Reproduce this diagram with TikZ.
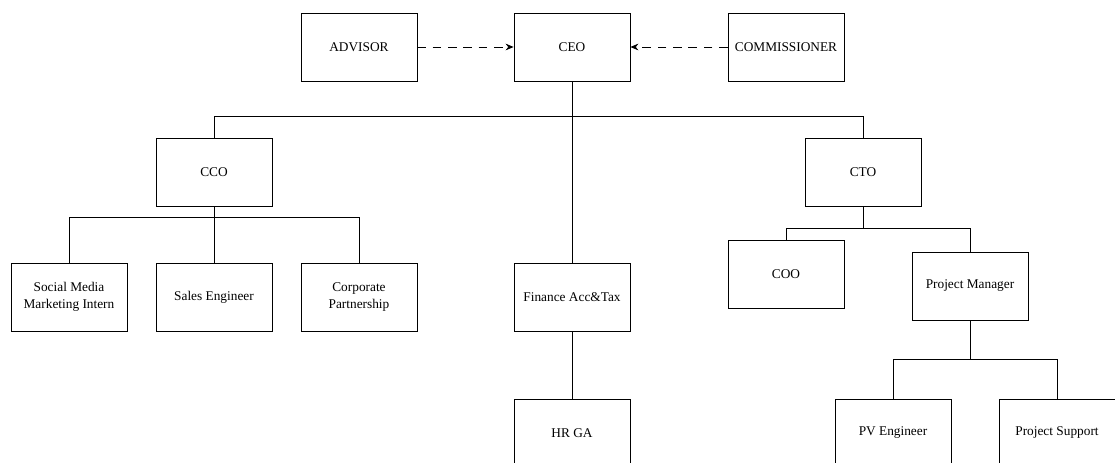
\documentclass[tikz,border=0pt]{standalone}
\usepackage{fontspec}
\setmainfont{Liberation Serif}
\usetikzlibrary{arrows.meta}
\tikzset{>={Stealth[length=6pt,width=5pt]}}
\tikzset{
  post/.style = {draw,rectangle,line width=0.6pt,minimum width=87pt,
    minimum height=51pt,inner sep=0pt,align=center,
    font=\fontsize{10}{12.5}\selectfont},
  link/.style = {line width=0.6pt},
  advice/.style = {->,line width=0.6pt,dash pattern=on 6.5pt off 5pt}
}

\begin{document}
\begin{tikzpicture}[x=0.75pt,y=-0.75pt]
  \useasboundingbox (0,0) rectangle (1115,463);
  % top row
  \node[post] (advisor) at (359,47) {ADVISOR};
  \node[post] (ceo) at (572,47) {CEO};
  \node[post] (commissioner) at (786,47) {COMMISSIONER};
  % second row
  \node[post] (cco) at (214,172) {CCO};
  \node[post] (cto) at (863,172) {CTO};
  % staff
  \node[post] (social) at (69,297) {Social Media\\Marketing Intern};
  \node[post] (sales) at (214,297) {Sales Engineer};
  \node[post] (corp) at (359,297) {Corporate\\Partnership};
  \node[post] (finance) at (572,297) {Finance Acc\&Tax};
  \node[post] (hrga) at (572,433) {HR GA};
  \node[post] (coo) at (786,274) {COO};
  \node[post] (pm) at (970,286) {Project Manager};
  \node[post] (pv) at (893,433) {PV Engineer};
  \node[post] (support) at (1057,433) {Project Support};
  % bus lines
  \coordinate (topbus) at (0,116);
  \coordinate (ccobus) at (0,217);
  \coordinate (ctobus) at (0,228);
  \coordinate (pmbus) at (0,359);
  \draw[advice] (advisor) -- (ceo);
  \draw[advice] (commissioner) -- (ceo);
  \draw[link] (ceo) -- (finance);
  \draw[link] (cco.north) -- (cco.north |- topbus) -| (cto.north);
  \draw[link] (cco) -- (sales);
  \draw[link] (social.north) -- (social.north |- ccobus) -| (corp.north);
  \draw[link] (finance) -- (hrga);
  \draw[link] (cto.south) -- (cto.south |- ctobus);
  \draw[link] (coo.north) -- (coo.north |- ctobus) -| (pm.north);
  \draw[link] (pm.south) -- (pm.south |- pmbus);
  \draw[link] (pv.north) -- (pv.north |- pmbus) -| (support.north);
\end{tikzpicture}
\end{document}
